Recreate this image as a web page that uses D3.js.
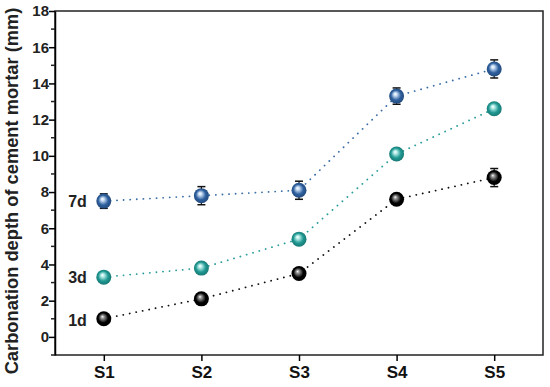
<!DOCTYPE html>
<html>
<head>
<meta charset="utf-8">
<script src="https://cdn.jsdelivr.net/npm/d3@7"></script>
<style>
  body { margin: 0; background: #fff; }
  text { font-family: Arial, "Liberation Sans", sans-serif; font-weight: bold; }
</style>
</head>
<body>
<div id="chart"></div>
<script>
var categories = ['S1', 'S2', 'S3', 'S4', 'S5'];
var days = ['1d', '3d', '7d'];
var values1d = [1.0, 2.1, 3.5, 7.6, 8.8];
var values3d = [3.3, 3.8, 5.4, 10.1, 12.6];
var values7d = [7.5, 7.8, 8.1, 13.3, 14.8];
var errors1d = [0.1, 0.1, 0.15, 0.2, 0.5];
var errors3d = [0.1, 0.1, 0.1, 0.2, 0.2];
var errors7d = [0.4, 0.5, 0.5, 0.45, 0.5];
var yTicks = [0, 2, 4, 6, 8, 10, 12, 14, 16, 18];

var chart_width = 550;
var chart_height = 387;
var plot_left = 55, plot_right = 543, plot_top = 11, plot_bottom = 355;

var svg = d3.select('#chart')
  .append('svg')
  .attr('width', chart_width)
  .attr('height', chart_height);

// Scales
var xScale = d3.scalePoint()
  .domain(categories)
  .range([plot_left, plot_right])
  .padding(0.5);

var yScale = d3.scaleLinear()
  .domain([-1, 18])
  .range([plot_bottom, plot_top]);

var series = [
  { name: days[0], values: values1d, errors: errors1d, color: '#000000', light: '#9a9a9a', dot: '#111', dy: 7 },
  { name: days[1], values: values3d, errors: errors3d, color: '#1f9892', light: '#bff0ec', dot: '#2a9d9a', dy: 6 },
  { name: days[2], values: values7d, errors: errors7d, color: '#2d5f9e', light: '#cfe2f7', dot: '#3a6ea8', dy: 6 }
];

// Gradients for the sphere markers
var defs = svg.append('defs');
series.forEach(function (s, i) {
  var g = defs.append('radialGradient')
    .attr('id', 'ball' + i)
    .attr('cx', '0.5').attr('cy', '0.5').attr('r', '0.55')
    .attr('fx', '0.4').attr('fy', '0.35');
  g.append('stop').attr('offset', '0%').attr('stop-color', '#ffffff');
  g.append('stop').attr('offset', '18%').attr('stop-color', s.light);
  g.append('stop').attr('offset', '60%').attr('stop-color', s.color);
  g.append('stop').attr('offset', '100%').attr('stop-color', d3.color(s.color).darker(0.8));
});

// Frame
svg.append('rect')
  .attr('x', plot_left)
  .attr('y', plot_top)
  .attr('width', plot_right - plot_left)
  .attr('height', plot_bottom - plot_top)
  .attr('fill', 'none')
  .attr('stroke', '#222')
  .attr('stroke-width', 1.5);

// Y axis
var yAxis = d3.axisLeft(yScale)
  .tickValues(yTicks)
  .tickSize(6)
  .tickSizeOuter(0)
  .tickFormat(d3.format('d'));
var yG = svg.append('g')
  .attr('transform', 'translate(' + plot_left + ',0)')
  .call(yAxis);
yG.select('.domain').attr('stroke-width', 1.5);
yG.selectAll('.tick line').attr('stroke-width', 1.5);
yG.selectAll('.tick text')
  .attr('font-size', 15)
  .attr('x', -6)
  .attr('fill', '#222');

// minor ticks
svg.append('g')
  .selectAll('line')
  .data(d3.range(-1, 18, 2))
  .enter()
  .append('line')
  .attr('x1', plot_left - 4)
  .attr('x2', plot_left)
  .attr('y1', function (d) { return yScale(d); })
  .attr('y2', function (d) { return yScale(d); })
  .attr('stroke', '#222')
  .attr('stroke-width', 1.5);

// X axis
var xAxis = d3.axisBottom(xScale)
  .tickSize(6)
  .tickSizeOuter(0);
var xG = svg.append('g')
  .attr('transform', 'translate(0,' + plot_bottom + ')')
  .call(xAxis);
xG.select('.domain').remove();
xG.selectAll('.tick line').attr('stroke-width', 1.5);
xG.selectAll('.tick text')
  .attr('font-size', 17)
  .attr('y', 11)
  .attr('fill', '#111');

// Y title
svg.append('text')
  .attr('transform', 'translate(18,191) rotate(-90)')
  .attr('text-anchor', 'middle')
  .attr('font-size', 18.3)
  .attr('fill', '#222')
  .text('Carbonation depth of cement mortar (mm)');

// Lines
var line = d3.line()
  .x(function (d, i) { return xScale(categories[i]); })
  .y(function (d) { return yScale(d); });

series.forEach(function (s) {
  svg.append('path')
    .datum(s.values)
    .attr('d', line)
    .attr('fill', 'none')
    .attr('stroke', s.dot)
    .attr('stroke-width', 1.8)
    .attr('stroke-linecap', 'round')
    .attr('stroke-dasharray', '0.1 6.5');
});

// Error bars and markers
series.forEach(function (s, i) {
  var g = svg.append('g');
  var eb = g.selectAll('g.err')
    .data(s.values)
    .enter()
    .append('g');
  eb.append('line')
    .attr('x1', function (d, j) { return xScale(categories[j]); })
    .attr('x2', function (d, j) { return xScale(categories[j]); })
    .attr('y1', function (d, j) { return yScale(d + s.errors[j]); })
    .attr('y2', function (d, j) { return yScale(d - s.errors[j]); })
    .attr('stroke', '#111')
    .attr('stroke-width', 1.2);
  [1, -1].forEach(function (sign) {
    eb.append('line')
      .attr('x1', function (d, j) { return xScale(categories[j]) - 4; })
      .attr('x2', function (d, j) { return xScale(categories[j]) + 4; })
      .attr('y1', function (d, j) { return yScale(d + sign * s.errors[j]); })
      .attr('y2', function (d, j) { return yScale(d + sign * s.errors[j]); })
      .attr('stroke', '#111')
      .attr('stroke-width', 1.5);
  });
  g.selectAll('circle')
    .data(s.values)
    .enter()
    .append('circle')
    .attr('cx', function (d, j) { return xScale(categories[j]); })
    .attr('cy', function (d) { return yScale(d); })
    .attr('r', 7.5)
    .attr('fill', 'url(#ball' + i + ')');

  // series label
  svg.append('text')
    .attr('x', xScale(categories[0]) - 17)
    .attr('y', yScale(s.values[0]) + s.dy)
    .attr('text-anchor', 'end')
    .attr('font-size', 16)
    .attr('fill', '#222')
    .text(s.name);
});
</script>
</body>
</html>
